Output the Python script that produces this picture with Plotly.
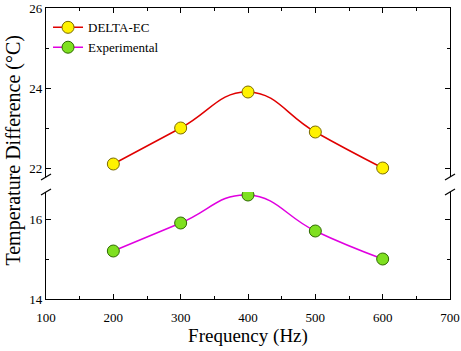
import plotly.graph_objects as go

freq = [200, 300, 400, 500, 600]
delta_ec = [22.1, 23.0, 23.9, 22.9, 22.0]
experimental = [15.2, 15.9, 16.6, 15.7, 15.0]

W, H = 461, 351
ml, mr, mt, mb = 46, 11, 8, 52
ph = H - mt - mb
up_bot = (H - mb - 177) / ph
lo_top = (H - mb - 192) / ph

font = "Times New Roman"

fig = go.Figure()
fig.add_trace(go.Scatter(
    x=freq, y=delta_ec, name="DELTA-EC", mode="lines+markers",
    line=dict(color="#E00000", width=1.5, shape="spline", smoothing=1.3),
    marker=dict(size=12, color="#FFF200", line=dict(color="#7A6A00", width=1)),
    xaxis="x2", yaxis="y2"))
fig.add_trace(go.Scatter(
    x=freq, y=experimental, name="Experimental", mode="lines+markers",
    line=dict(color="#E000E0", width=1.5, shape="spline", smoothing=1.3),
    marker=dict(size=12, color="#7FE020", line=dict(color="#2E6A00", width=1)),
    xaxis="x", yaxis="y"))

axcommon = dict(showline=True, linecolor="black", linewidth=1.2, ticks="inside",
                tickcolor="black", ticklen=5, tickwidth=1, showgrid=False, zeroline=False,
                automargin=False,
                tickfont=dict(family=font, size=13, color="black"))

fig.update_layout(
    width=W, height=H, margin=dict(l=ml, r=mr, t=mt, b=mb, autoexpand=False),
    plot_bgcolor="white", paper_bgcolor="white",
    font=dict(family=font),
    showlegend=True,
    legend=dict(x=0.005, y=0.985, xanchor="left", yanchor="top",
                bgcolor="rgba(0,0,0,0)", font=dict(family=font, size=13, color="black"),
                itemwidth=30, tracegroupgap=0),
    xaxis=dict(domain=[0, 1], anchor="y", range=[100, 700], dtick=100, tick0=100,
               minor=dict(dtick=50, ticks="inside", ticklen=3, tickcolor="black"),
               title=dict(text="Frequency (Hz)", font=dict(family=font, size=19, color="black"), standoff=4),
               ticklabelstandoff=6,
               **axcommon),
    xaxis2=dict(domain=[0, 1], anchor="y2", side="top", range=[100, 700], dtick=100, tick0=100,
                matches="x", showticklabels=False,
                minor=dict(dtick=50, ticks="inside", ticklen=3, tickcolor="black"),
                **axcommon),
    yaxis=dict(domain=[0, lo_top], anchor="x", range=[14, 16.675], dtick=2, tick0=14,
               mirror="ticks",
               minor=dict(dtick=1, ticks="inside", ticklen=3, tickcolor="black"),
               **axcommon),
    yaxis2=dict(domain=[up_bot, 1], anchor="x2", range=[21.775, 26], dtick=2, tick0=22,
                mirror="ticks",
                minor=dict(dtick=1, ticks="inside", ticklen=3, tickcolor="black"),
                **axcommon),
    annotations=[dict(text="Temperature Difference (°C)", textangle=-90,
                      xref="paper", yref="paper", x=0, y=0.51, xanchor="center", yanchor="middle",
                      xshift=-32, showarrow=False,
                      font=dict(family=font, size=20, color="black"))],
)

shapes = []
for xa in (0, 1):
    for ya in (up_bot, lo_top):
        shapes.append(dict(type="line", xref="paper", yref="paper",
                           xsizemode="pixel", ysizemode="pixel",
                           xanchor=xa, yanchor=ya, x0=-5, x1=5, y0=-3, y1=3,
                           line=dict(color="black", width=1.2)))
fig.update_layout(shapes=shapes)

fig.write_html("out.html")
